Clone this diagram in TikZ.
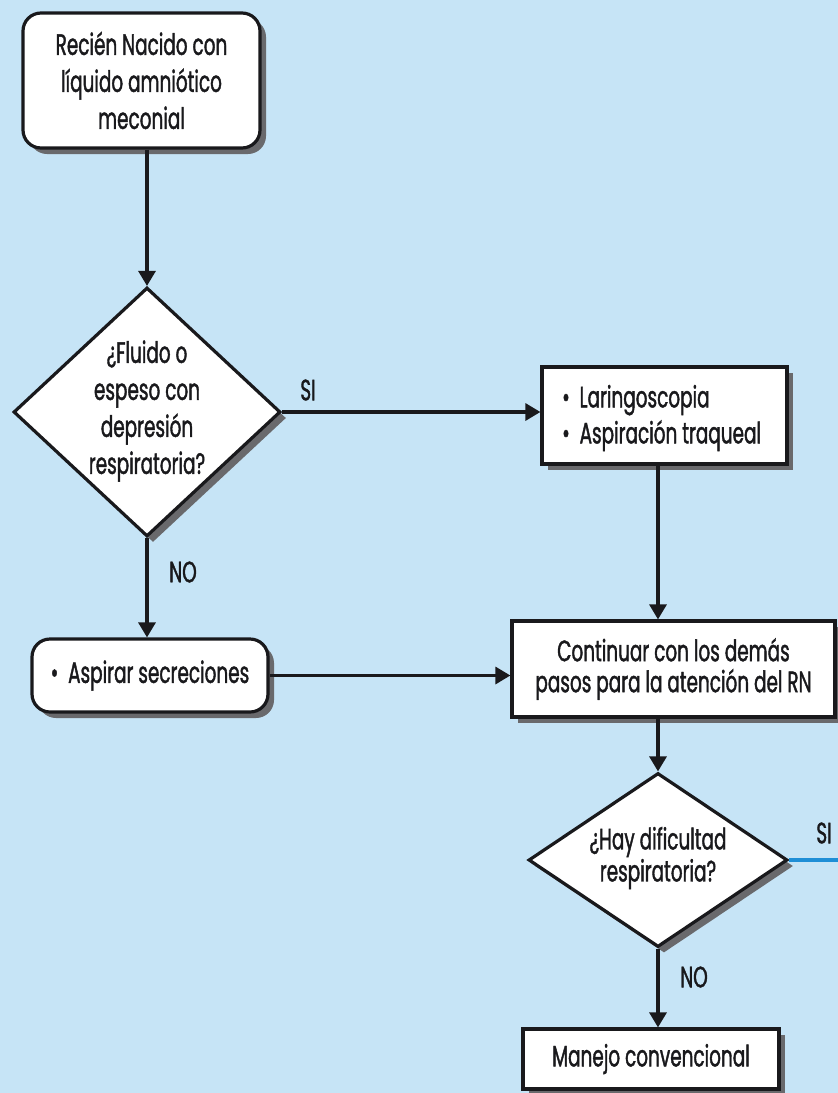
\documentclass[tikz,border=0pt]{standalone}
\usepackage{fontspec}
\setmainfont[FakeStretch=0.625,FakeBold=1.3]{Poppins}
\usetikzlibrary{shapes.geometric,arrows.meta,shadows}
\definecolor{bg}{RGB}{198,228,246}
\definecolor{ink}{RGB}{25,25,28}
\definecolor{shad}{RGB}{105,105,108}
\definecolor{siblue}{RGB}{30,142,214}
\tikzset{
  shd/.style={drop shadow={shadow xshift=6pt,shadow yshift=-6pt,fill=shad,opacity=1}},
  rbox/.style={draw=ink,line width=3.2pt,fill=white,rounded corners=18pt,shd,inner sep=0pt,align=center,text=ink},
  sbox/.style={draw=ink,line width=3.2pt,fill=white,shd,inner sep=0pt,align=center,text=ink},
  dia/.style={draw=ink,line width=3.2pt,fill=white,diamond,shd,inner sep=0pt},
  txt/.style={inner sep=0pt,align=center,text=ink},
  lbl/.style={inner sep=0pt,text=ink,font=\fontsize{29.5}{30}\selectfont},
  arr/.style={draw=ink,line width=3.2pt,-{Triangle[length=15pt,width=17pt]}},
}
\begin{document}
\begin{tikzpicture}[x=1pt,y=-1pt]
\fill[bg] (0,0) rectangle (838,1093);
\useasboundingbox (0,0) rectangle (838,1093);
% nodes
\node[rbox,minimum width=237pt,minimum height=135pt,font=\fontsize{29.5}{37}\selectfont] (b1) at (141.5,80.5) {Recién Nacido con\\líquido amniótico\\meconial};
\node[dia,minimum width=267pt,minimum height=249pt] (d1) at (147,412) {};
\node[txt,font=\fontsize{29.5}{37}\selectfont] (t1) at (147,411) {¿Fluido o\\espeso con\\depresión\\respiratoria?};
\node[sbox,minimum width=245pt,minimum height=97pt] (b2) at (664.5,415.5) {};
\node[txt,anchor=west,align=left,font=\fontsize{29.5}{36}\selectfont] (t2) at (562,418) {•\, Laringoscopia\\•\, Aspiración traqueal};
\node[rbox,minimum width=236pt,minimum height=73pt,font=\fontsize{29.5}{30}\selectfont] (b4) at (150,675.5) {•\, Aspirar secreciones};
\node[sbox,minimum width=323pt,minimum height=96pt,font=\fontsize{29.5}{31}\selectfont] (b3) at (673.5,669) {Continuar con los demás\\pasos para la atención del RN};
\node[dia,minimum width=259pt,minimum height=174pt] (d2) at (658,860) {};
\node[txt,font=\fontsize{29.5}{32}\selectfont] (t3) at (658,858) {¿Hay dificultad\\respiratoria?};
\node[sbox,minimum width=256pt,minimum height=60pt,font=\fontsize{29.5}{30}\selectfont] (b5) at (651,1059) {Manejo convencional};
% labels
\node[lbl] (si1) at (308,390) {SI};
\node[lbl] (no1) at (183,572) {NO};
\node[lbl] (si2) at (824,833) {SI};
\node[lbl] (no2) at (694,977) {NO};
% connectors
\draw[arr] (d1.north |- b1.south) -- (d1.north);
\draw[arr] (d1.east) -- (d1.east -| b2.west);
\draw[arr] (d1.south) -- (d1.south |- b4.north);
\draw[arr] (d2.north |- b2.south) -- (d2.north |- b3.north);
\draw[arr] (b4.east) -- (b4.east -| b3.west);
\draw[arr] (d2.north |- b3.south) -- (d2.north);
\draw[arr] (d2.south) -- (d2.south |- b5.north);
\coordinate (edge) at (838,860);
\draw[siblue,line width=3.8pt] (d2.east) -- (edge);
\end{tikzpicture}
\end{document}
